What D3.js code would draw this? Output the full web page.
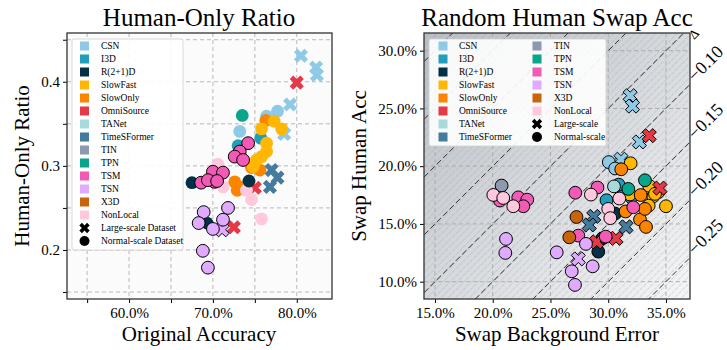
<!DOCTYPE html>
<html>
<head>
<meta charset="utf-8">
<script src="https://cdn.jsdelivr.net/npm/d3@7"></script>
<style>
  body { margin: 0; background: #fff; }
  svg { display: block; }
  svg text { font-family: "Liberation Serif", "Times New Roman", serif; }
</style>
</head>
<body>
<div id="chart"></div>
<script>
// model names + colours (legend order)
const models = ['CSN', 'I3D', 'R(2+1)D', 'SlowFast', 'SlowOnly', 'OmniSource', 'TANet',
    'TimeSFormer', 'TIN', 'TPN', 'TSM', 'TSN', 'X3D', 'NonLocal'];
const modelColors = ['#8ecae6', '#219ebc', '#023047', '#ffb703', '#fb8500', '#e63946', '#a8dadc',
    '#457b9d', '#8d99ae', '#06a58c', '#f15bb5', '#e0aaff', '#c9640c', '#ffc8dd'];

// left panel: [model, scale (L = large, N = normal), original acc %, human-only ratio]
const ratioPoints = [
    ['CSN', 'L', 80.5, 0.431], ['CSN', 'L', 82.3, 0.417], ['CSN', 'L', 82.4, 0.408],
    ['CSN', 'L', 79.2, 0.373], ['CSN', 'L', 78.5, 0.338],
    ['CSN', 'N', 77.7, 0.365], ['CSN', 'N', 76.4, 0.359], ['CSN', 'N', 73.2, 0.341],
    ['I3D', 'N', 73.0, 0.324], ['I3D', 'N', 75.7, 0.333],
    ['TPN', 'N', 73.5, 0.360],
    ['SlowOnly', 'N', 76.3, 0.354], ['SlowOnly', 'N', 74.6, 0.298], ['SlowOnly', 'N', 75.6, 0.295],
    ['SlowOnly', 'N', 72.6, 0.281], ['SlowOnly', 'N', 72.9, 0.271], ['SlowOnly', 'N', 73.2, 0.275],
    ['SlowFast', 'N', 77.3, 0.353], ['SlowFast', 'N', 78.2, 0.344], ['SlowFast', 'N', 75.8, 0.344],
    ['SlowFast', 'N', 76.4, 0.327], ['SlowFast', 'N', 76.4, 0.317], ['SlowFast', 'N', 75.2, 0.307],
    ['SlowFast', 'N', 74.8, 0.299], ['SlowFast', 'N', 75.8, 0.311],
    ['OmniSource', 'L', 80.0, 0.399], ['OmniSource', 'L', 75.0, 0.274], ['OmniSource', 'L', 72.5, 0.227],
    ['TimeSFormer', 'L', 77.0, 0.295], ['TimeSFormer', 'L', 77.7, 0.286], ['TimeSFormer', 'L', 76.8, 0.275],
    ['NonLocal', 'N', 70.6, 0.302], ['NonLocal', 'N', 71.2, 0.275], ['NonLocal', 'N', 74.0, 0.271],
    ['NonLocal', 'N', 74.6, 0.260], ['NonLocal', 'N', 75.8, 0.237],
    ['R(2+1)D', 'N', 67.5, 0.280], ['R(2+1)D', 'N', 74.3, 0.282], ['R(2+1)D', 'N', 69.3, 0.232],
    ['TSN', 'L', 71.1, 0.224],
    ['TSM', 'N', 74.2, 0.327], ['TSM', 'N', 73.2, 0.317], ['TSM', 'N', 72.6, 0.311], ['TSM', 'N', 73.6, 0.307],
    ['TSM', 'N', 68.6, 0.280], ['TSM', 'N', 70.0, 0.293], ['TSM', 'N', 70.2, 0.281], ['TSM', 'N', 71.2, 0.292],
    ['TSM', 'N', 69.4, 0.283], ['TSM', 'N', 70.5, 0.282],
    ['TSN', 'N', 71.8, 0.250], ['TSN', 'N', 68.9, 0.245], ['TSN', 'N', 71.2, 0.236], ['TSN', 'N', 68.3, 0.232],
    ['TSN', 'N', 70.0, 0.225], ['TSN', 'N', 68.8, 0.199], ['TSN', 'N', 69.4, 0.179]
];
// models drawn with a black edge on the left panel
const edgedModels = ['TSM', 'TSN'];

// right panel: [model, scale, swap background error %, swap human acc %]
const swapPoints = [
    ['CSN', 'L', 31.9, 26.1], ['CSN', 'L', 32.1, 25.2], ['CSN', 'L', 32.7, 22.1], ['CSN', 'L', 31.1, 20.6],
    ['CSN', 'N', 30.05, 20.35], ['CSN', 'N', 30.6, 19.8],
    ['I3D', 'N', 29.85, 17.05], ['I3D', 'N', 31.4, 17.95], ['I3D', 'N', 32.0, 17.3], ['I3D', 'N', 30.9, 18.4],
    ['R(2+1)D', 'N', 29.5, 13.75], ['R(2+1)D', 'N', 29.14, 12.6], ['R(2+1)D', 'N', 30.6, 15.9],
    ['SlowFast', 'N', 31.94, 20.25], ['SlowFast', 'N', 31.88, 17.55], ['SlowFast', 'N', 33.55, 18.3],
    ['SlowFast', 'N', 34.33, 17.74], ['SlowFast', 'N', 33.9, 17.39], ['SlowFast', 'N', 33.5, 16.58],
    ['SlowFast', 'N', 35.0, 16.53], ['SlowFast', 'N', 34.05, 17.6],
    ['SlowOnly', 'N', 31.13, 19.73], ['SlowOnly', 'N', 32.81, 17.5], ['SlowOnly', 'N', 31.5, 16.08],
    ['SlowOnly', 'N', 32.75, 15.38], ['SlowOnly', 'N', 33.27, 14.74], ['SlowOnly', 'N', 33.18, 16.3],
    ['OmniSource', 'L', 33.55, 22.64], ['OmniSource', 'L', 34.48, 18.1],
    ['OmniSource', 'L', 29.0, 13.45], ['OmniSource', 'L', 30.67, 13.75],
    ['TANet', 'N', 30.5, 18.25],
    ['TimeSFormer', 'L', 28.75, 15.65], ['TimeSFormer', 'L', 28.36, 14.91], ['TimeSFormer', 'L', 31.54, 14.75],
    ['TIN', 'N', 20.77, 18.32],
    ['TPN', 'N', 33.18, 18.78], ['TPN', 'N', 31.74, 18.03],
    ['TSM', 'N', 27.15, 17.7], ['TSM', 'N', 29.07, 18.15], ['TSM', 'N', 32.17, 16.44],
    ['TSM', 'N', 20.63, 17.02], ['TSM', 'N', 22.21, 17.3], ['TSM', 'N', 22.99, 17.1],
    ['TSM', 'N', 22.65, 16.53], ['TSM', 'N', 27.41, 13.99], ['TSM', 'N', 29.78, 13.9],
    ['TSN', 'L', 27.41, 11.97],
    ['TSN', 'N', 21.15, 13.7], ['TSN', 'N', 21.09, 12.49], ['TSN', 'N', 25.54, 12.54], ['TSN', 'N', 28.07, 13.27],
    ['TSN', 'N', 28.65, 11.33], ['TSN', 'N', 26.84, 10.9], ['TSN', 'N', 27.12, 9.72],
    ['X3D', 'N', 27.25, 15.6], ['X3D', 'N', 26.63, 13.84],
    ['NonLocal', 'N', 28.5, 17.54], ['NonLocal', 'N', 30.96, 17.2], ['NonLocal', 'N', 30.0, 16.3],
    ['NonLocal', 'N', 30.18, 15.5], ['NonLocal', 'N', 20.05, 17.51], ['NonLocal', 'N', 20.91, 17.25],
    ['NonLocal', 'N', 21.78, 16.53]
];

// tick values
const ratioXTicks = [60, 70, 80];
const ratioXMinor = [55, 65, 75];
const ratioYTicks = [0.2, 0.3, 0.4];
const ratioYMinor = [0.15, 0.25, 0.35, 0.45];
const swapTicks = [10, 15, 20, 25, 30, 35];
const deltaLines = [-0.30, -0.25, -0.20, -0.15, -0.10, -0.05, 0, 0.05, 0.10, 0.15, 0.20];
const deltaLabels = [-0.10, -0.15, -0.20, -0.25];

const width = 727, height = 350;
const serif = '"Liberation Serif", "Times New Roman", serif';
const color = d3.scaleOrdinal(models, modelColors);
const pct = d => d.toFixed(1) + '%';

const svg = d3.select('#chart').append('svg')
    .attr('width', width)
    .attr('height', height)
    .attr('font-family', serif);

const defs = svg.append('defs');

// filled "X" marker, same shape matplotlib uses
function crossPath(s) {
    const a = s / 2, b = s / 6;
    const pts = [[-b, -a], [b, -a], [b, -b], [a, -b], [a, b], [b, b], [b, a], [-b, a], [-b, b], [-a, b], [-a, -b], [-b, -b]];
    const r = Math.SQRT1_2;
    return 'M' + pts.map(p => [(p[0] - p[1]) * r, (p[0] + p[1]) * r].map(v => v.toFixed(2)).join(',')).join('L') + 'Z';
}

function drawMarkers(g, data, x, y, edgeFn) {
    g.selectAll('path.mark')
        .data(data)
        .enter()
        .append('path')
            .attr('class', 'mark')
            .attr('transform', d => `translate(${x(d[2])},${y(d[3])})`)
            .attr('d', d => d[1] === 'L' ? crossPath(15) : d3.arc()({ innerRadius: 0, outerRadius: 6.4, startAngle: 0, endAngle: 2 * Math.PI }))
            .style('fill', d => color(d[0]))
            .style('stroke', d => edgeFn(d) ? '#000' : 'none')
            .style('stroke-width', 1);
}

function drawLegend(g, x0, y0, w, h, cols) {
    g.append('rect')
        .attr('x', x0).attr('y', y0).attr('width', w).attr('height', h)
        .attr('rx', 2)
        .style('fill', '#fff').style('fill-opacity', 0.9)
        .style('stroke', '#d0d0d0').style('stroke-width', 0.8);

    cols.forEach(col => {
        col.items.forEach((it, i) => {
            const cy = y0 + 7 + i * 13;
            if (it.kind === 'model') {
                g.append('rect')
                    .attr('x', col.mx - 4.5).attr('y', cy - 4.5).attr('width', 9).attr('height', 9)
                    .style('fill', color(it.label));
            } else if (it.kind === 'L') {
                g.append('path')
                    .attr('transform', `translate(${col.mx},${cy})`)
                    .attr('d', crossPath(11))
                    .style('fill', '#000');
            } else {
                g.append('circle')
                    .attr('cx', col.mx).attr('cy', cy).attr('r', 5)
                    .style('fill', '#000');
            }
            g.append('text')
                .attr('x', col.tx).attr('y', cy)
                .attr('dy', '0.33em')
                .style('font-family', serif)
                .style('font-size', '9.5px')
                .text(it.label);
        });
    });
}

// ---------------- left panel ----------------
const lx = d3.scaleLinear().domain([52.6, 84.2]).range([67, 332]);
const ly = d3.scaleLinear().domain([0.1417, 0.458]).range([299, 33]);

const left = svg.append('g');

left.append('rect')
    .attr('x', 67).attr('y', 33).attr('width', 265).attr('height', 266)
    .style('fill', '#fbfbfb');

// grid
left.selectAll('line.gx')
    .data(ratioXTicks.concat(ratioXMinor))
    .enter().append('line')
        .attr('x1', d => lx(d)).attr('x2', d => lx(d)).attr('y1', 33).attr('y2', 299)
        .style('stroke', '#b0b0b0').style('stroke-dasharray', '4,3').style('stroke-width', 0.9);
left.selectAll('line.gy')
    .data(ratioYTicks.concat(ratioYMinor))
    .enter().append('line')
        .attr('y1', d => ly(d)).attr('y2', d => ly(d)).attr('x1', 67).attr('x2', 332)
        .style('stroke', '#b0b0b0').style('stroke-dasharray', '4,3').style('stroke-width', 0.9);

defs.append('clipPath').attr('id', 'clipL')
    .append('rect').attr('x', 67).attr('y', 33).attr('width', 265).attr('height', 266);

drawMarkers(left.append('g').attr('clip-path', 'url(#clipL)'), ratioPoints, lx, ly,
    d => edgedModels.indexOf(d[0]) >= 0);

// axes
const lxAxis = left.append('g')
    .attr('transform', 'translate(0,299)')
    .call(d3.axisBottom(lx).tickValues(ratioXTicks.concat(ratioXMinor)).tickSize(4)
        .tickFormat(d => ratioXTicks.indexOf(d) >= 0 ? pct(d) : ''));
const lyAxis = left.append('g')
    .attr('transform', 'translate(67,0)')
    .call(d3.axisLeft(ly).tickValues(ratioYTicks.concat(ratioYMinor)).tickSize(4)
        .tickFormat(d => ratioYTicks.indexOf(d) >= 0 ? d.toFixed(1) : ''));

[lxAxis, lyAxis].forEach(a => {
    a.attr('font-family', serif);
    a.select('.domain').remove();
    a.selectAll('text').style('font-size', '15px').style('font-family', serif).style('fill', '#000');
    a.selectAll('line').style('stroke', '#000');
});
lxAxis.selectAll('text').attr('y', 8);

left.append('rect')
    .attr('x', 67).attr('y', 33).attr('width', 265).attr('height', 266)
    .style('fill', 'none').style('stroke', '#333').style('stroke-width', 1.3);

const leftItems = models.map(m => ({ kind: 'model', label: m }))
    .concat([{ kind: 'L', label: 'Large-scale Dataset' }, { kind: 'N', label: 'Normal-scale Dataset' }]);
drawLegend(left.append('g'), 72, 39, 111, 211, [{ mx: 84.5, tx: 101, items: leftItems }]);

left.append('text')
    .attr('x', 199).attr('y', 26)
    .attr('text-anchor', 'middle')
    .style('font-size', '25px')
    .text('Human-Only Ratio');
left.append('text')
    .attr('x', 199).attr('y', 341)
    .attr('text-anchor', 'middle')
    .style('font-size', '21px')
    .text('Original Accuracy');
left.append('text')
    .attr('transform', 'translate(29,166) rotate(-90)')
    .attr('text-anchor', 'middle')
    .style('font-size', '21px')
    .text('Human-Only Ratio');

// ---------------- right panel ----------------
const rx = d3.scaleLinear().domain([14.05, 37.08]).range([424, 690]);
const ry = d3.scaleLinear().domain([8.5, 31.53]).range([299, 33]);

const right = svg.append('g');

const grad = defs.append('linearGradient')
    .attr('id', 'deltaGrad')
    .attr('gradientUnits', 'userSpaceOnUse')
    .attr('x1', 424).attr('y1', 33).attr('x2', 690).attr('y2', 299);
grad.append('stop').attr('offset', 0).attr('stop-color', '#b8bec5');
grad.append('stop').attr('offset', 0.5).attr('stop-color', '#d6d9dd');
grad.append('stop').attr('offset', 1).attr('stop-color', '#f5f6f7');

const hatch = defs.append('pattern')
    .attr('id', 'hatch')
    .attr('patternUnits', 'userSpaceOnUse')
    .attr('width', 5).attr('height', 5)
    .attr('patternTransform', 'rotate(45)');
hatch.append('line')
    .attr('x1', 2.5).attr('x2', 2.5).attr('y1', 0).attr('y2', 5)
    .style('stroke', '#9c9c9c').style('stroke-width', 0.5).style('stroke-opacity', 0.6)
    .style('stroke-dasharray', '3,1');

defs.append('clipPath').attr('id', 'clipR')
    .append('rect').attr('x', 424).attr('y', 33).attr('width', 266).attr('height', 266);

right.append('rect')
    .attr('x', 424).attr('y', 33).attr('width', 266).attr('height', 266)
    .style('fill', 'url(#deltaGrad)');
right.append('rect')
    .attr('x', 424).attr('y', 33).attr('width', 266).attr('height', 266)
    .style('fill', 'url(#hatch)');

right.selectAll('line.gx')
    .data(swapTicks.filter(d => d >= 15))
    .enter().append('line')
        .attr('x1', d => rx(d)).attr('x2', d => rx(d)).attr('y1', 33).attr('y2', 299)
        .style('stroke', '#a8a8a8').style('stroke-dasharray', '4,3').style('stroke-width', 0.9);
right.selectAll('line.gy')
    .data(swapTicks.filter(d => d <= 30))
    .enter().append('line')
        .attr('y1', d => ry(d)).attr('y2', d => ry(d)).attr('x1', 424).attr('x2', 690)
        .style('stroke', '#a8a8a8').style('stroke-dasharray', '4,3').style('stroke-width', 0.9);

const inner = right.append('g').attr('clip-path', 'url(#clipR)');
const xd = rx.domain();
inner.selectAll('line.delta')
    .data(deltaLines)
    .enter().append('line')
        .attr('x1', rx(xd[0])).attr('y1', d => ry(xd[0] + d * 100))
        .attr('x2', rx(xd[1])).attr('y2', d => ry(xd[1] + d * 100))
        .style('stroke', '#000').style('stroke-width', 0.8).style('stroke-dasharray', '6,3');

drawMarkers(inner, swapPoints, rx, ry, () => true);

const rxAxis = right.append('g')
    .attr('transform', 'translate(0,299)')
    .call(d3.axisBottom(rx).tickValues(swapTicks.filter(d => d >= 15)).tickSize(4).tickFormat(pct));
const ryAxis = right.append('g')
    .attr('transform', 'translate(424,0)')
    .call(d3.axisLeft(ry).tickValues(swapTicks.filter(d => d <= 30)).tickSize(4).tickFormat(pct));

[rxAxis, ryAxis].forEach(a => {
    a.attr('font-family', serif);
    a.select('.domain').remove();
    a.selectAll('text').style('font-size', '15px').style('font-family', serif).style('fill', '#000');
    a.selectAll('line').style('stroke', '#000');
});
rxAxis.selectAll('text').attr('y', 8);

right.append('rect')
    .attr('x', 424).attr('y', 33).attr('width', 266).attr('height', 266)
    .style('fill', 'none').style('stroke', '#333').style('stroke-width', 1.3);

// delta labels on the right edge
right.selectAll('text.dl')
    .data(deltaLabels)
    .enter().append('text')
        .attr('transform', d => `translate(695,${ry(xd[1] + d * 100) - 2}) rotate(-45)`)
        .style('font-size', '18px')
        .text(d => '\u2212' + Math.abs(d).toFixed(2));
right.append('text')
    .attr('transform', 'translate(694,40) rotate(-45)')
    .style('font-size', '13px')
    .text('\u0394');

const rightItems = models.map(m => ({ kind: 'model', label: m }));
drawLegend(right.append('g'), 429, 39, 177, 107, [
    { mx: 443, tx: 459, items: rightItems.slice(0, 8) },
    { mx: 537, tx: 554, items: rightItems.slice(8).concat([{ kind: 'L', label: 'Large-scale' }, { kind: 'N', label: 'Normal-scale' }]) }
]);

right.append('text')
    .attr('x', 557).attr('y', 26)
    .attr('text-anchor', 'middle')
    .style('font-size', '25px')
    .text('Random Human Swap Acc');
right.append('text')
    .attr('x', 557).attr('y', 341)
    .attr('text-anchor', 'middle')
    .style('font-size', '21px')
    .text('Swap Background Error');
right.append('text')
    .attr('transform', 'translate(366,166) rotate(-90)')
    .attr('text-anchor', 'middle')
    .style('font-size', '21px')
    .text('Swap Human Acc');
</script>
</body>
</html>
